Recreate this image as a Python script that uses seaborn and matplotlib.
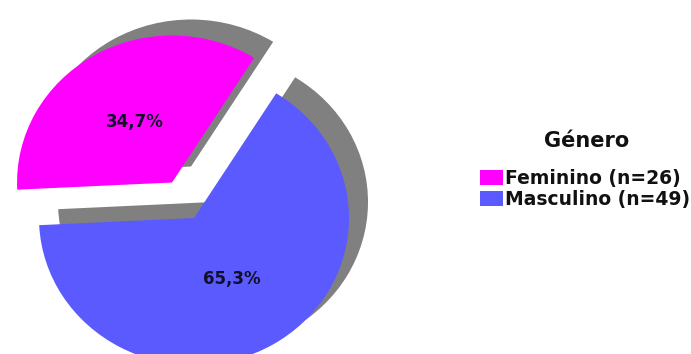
import matplotlib
matplotlib.use("Agg")
import matplotlib.pyplot as plt
from matplotlib.patches import Patch
import seaborn as sns

# Data
categories = ["Feminino", "Masculino"]
counts = [26, 49]
slice_colors = ["#ff00ff", "#5a5aff"]
shadow_color = "#808080"
legend_title = "Género"

sns.set_theme(style="white")
plt.rcParams["font.family"] = ["DejaVu Sans"]

W, H = 691, 354
fig = plt.figure(figsize=(W / 100, H / 100), dpi=100)
fig.patch.set_facecolor("white")
ax = fig.add_axes([0, 0, 1, 1])

# Pie geometry in pixels: centre and slightly flattened radii
cx, cy = 194, 218
rx, ry = 155, 147
shadow_dx, shadow_dy = 19 / rx, 16 / ry
explode = [0.28, 0.0]
start = 58


def pct_label(p):
    return f"{p:.1f}%".replace(".", ",")


# Gray drop shadow drawn first, offset up and to the right
ax.pie(counts, explode=explode, startangle=start, counterclock=True,
       colors=[shadow_color] * len(counts), center=(shadow_dx, shadow_dy),
       radius=1, wedgeprops=dict(linewidth=0))

# Coloured slices with percentage labels
wedges, texts, autotexts = ax.pie(
    counts, explode=explode, startangle=start, counterclock=True,
    colors=slice_colors, center=(0, 0), radius=1,
    autopct=pct_label, pctdistance=0.48,
    wedgeprops=dict(linewidth=0),
    textprops=dict(color="#10102a", fontsize=12, fontweight="bold"))

ax.set_xlim(-cx / rx, (W - cx) / rx)
ax.set_ylim(-(H - cy) / ry, cy / ry)
ax.set_aspect("auto")
ax.axis("off")

# Legend: title and entries
fig.text(587 / W, 1 - 141 / H, legend_title, ha="center", va="center",
         fontsize=15, fontweight="bold", color="#111111")

handles = [Patch(facecolor=c, edgecolor="none", label=f"{cat} (n={n})")
           for cat, n, c in zip(categories, counts, slice_colors)]
leg = fig.legend(handles=handles, loc="center left",
                 bbox_to_anchor=(480 / W, 1 - 189 / H), frameon=False,
                 prop=dict(weight="bold", size=13.5),
                 handlelength=1.23, handleheight=0.9, handletextpad=0.1,
                 labelspacing=0.12, borderpad=0.0, borderaxespad=0.0)
for t in leg.get_texts():
    t.set_color("#111111")

fig.savefig("out.png", dpi=100, facecolor="white")
